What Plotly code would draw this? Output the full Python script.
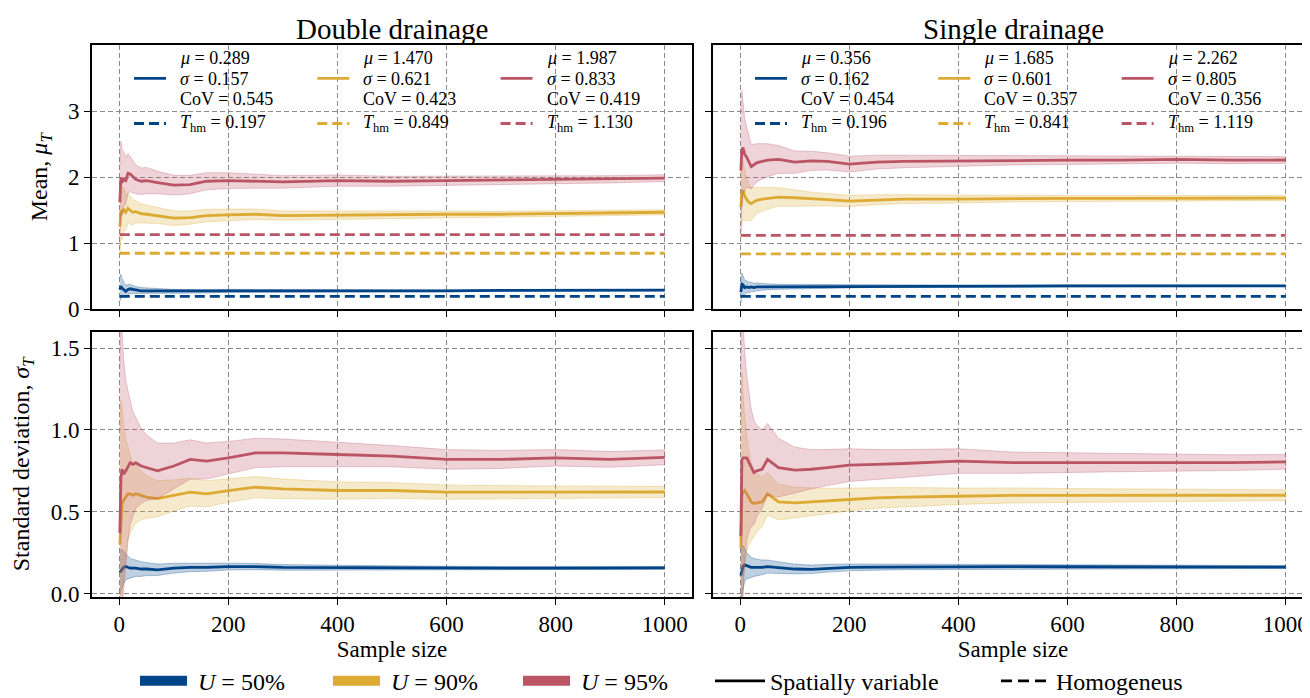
import plotly.graph_objects as go

# ---------------- data ----------------
N = [1, 3, 5, 8, 12, 16, 20, 25, 30, 40, 50, 70, 100, 130, 160, 200, 250, 300,
     400, 500, 600, 700, 800, 900, 1000]

U_LABELS = ["50%", "90%", "95%"]
COLORS = ["#004488", "#DDAA33", "#BB5566"]
FILLS = ["rgba(0,68,136,0.25)", "rgba(221,170,51,0.25)", "rgba(187,85,102,0.25)"]
EDGES = ["rgba(0,68,136,0.30)", "rgba(221,170,51,0.30)", "rgba(187,85,102,0.30)"]

# Double drainage - running mean and band half-width
dd_mean_50 = [0.30, 0.35, 0.32, 0.30, 0.27, 0.30, 0.31, 0.30, 0.29, 0.28, 0.28, 0.28, 0.27,
              0.27, 0.27, 0.28, 0.28, 0.28, 0.28, 0.28, 0.28, 0.285, 0.285, 0.29, 0.289]
dd_mean_50_ci = [0.18, 0.18, 0.14, 0.11, 0.09, 0.078, 0.07, 0.062, 0.056, 0.049, 0.044, 0.037,
                 0.031, 0.027, 0.024, 0.022, 0.019, 0.018, 0.015, 0.014, 0.013, 0.012, 0.011,
                 0.010, 0.010]
dd_mean_90 = [1.25, 1.50, 1.45, 1.52, 1.47, 1.53, 1.50, 1.47, 1.48, 1.45, 1.44, 1.42, 1.38,
              1.39, 1.42, 1.43, 1.44, 1.42, 1.43, 1.43, 1.44, 1.44, 1.45, 1.46, 1.470]
dd_mean_90_ci = [0.45, 0.45, 0.40, 0.33, 0.27, 0.23, 0.21, 0.19, 0.17, 0.15, 0.14, 0.12, 0.11,
                 0.10, 0.095, 0.088, 0.078, 0.07, 0.062, 0.055, 0.05, 0.046, 0.043, 0.041,
                 0.039]
dd_mean_95 = [1.62, 2.00, 1.92, 1.97, 1.95, 2.06, 2.05, 2.01, 1.97, 1.94, 1.95, 1.92, 1.88,
              1.89, 1.94, 1.95, 1.94, 1.93, 1.95, 1.94, 1.95, 1.96, 1.96, 1.97, 1.987]
dd_mean_95_ci = [0.55, 0.55, 0.50, 0.42, 0.35, 0.30, 0.27, 0.24, 0.22, 0.20, 0.20, 0.17, 0.15,
                 0.14, 0.13, 0.12, 0.105, 0.095, 0.085, 0.075, 0.068, 0.062, 0.058, 0.055,
                 0.052]

# Single drainage - running mean and band half-width
sd_mean_50 = [0.26, 0.38, 0.37, 0.33, 0.34, 0.33, 0.34, 0.33, 0.34, 0.34, 0.34, 0.34, 0.345,
              0.34, 0.345, 0.345, 0.35, 0.35, 0.35, 0.35, 0.355, 0.355, 0.355, 0.356, 0.356]
sd_mean_50_ci = [0.17, 0.17, 0.14, 0.11, 0.09, 0.08, 0.07, 0.064, 0.058, 0.05, 0.045, 0.038,
                 0.032, 0.028, 0.025, 0.022, 0.02, 0.018, 0.016, 0.014, 0.013, 0.012, 0.011,
                 0.011, 0.010]
sd_mean_90 = [1.55, 1.78, 1.80, 1.72, 1.66, 1.62, 1.60, 1.62, 1.65, 1.67, 1.68, 1.70, 1.69,
              1.67, 1.66, 1.64, 1.66, 1.67, 1.67, 1.68, 1.68, 1.68, 1.685, 1.68, 1.685]
sd_mean_90_ci = [0.50, 0.50, 0.45, 0.38, 0.32, 0.28, 0.25, 0.22, 0.20, 0.18, 0.16, 0.14, 0.12,
                 0.105, 0.095, 0.085, 0.075, 0.068, 0.06, 0.053, 0.048, 0.045, 0.042, 0.04,
                 0.038]
sd_mean_95 = [2.10, 2.42, 2.45, 2.35, 2.30, 2.22, 2.16, 2.19, 2.22, 2.24, 2.26, 2.27, 2.23,
              2.25, 2.24, 2.20, 2.23, 2.24, 2.25, 2.26, 2.26, 2.26, 2.27, 2.26, 2.262]
sd_mean_95_ci = [0.90, 0.90, 0.70, 0.55, 0.45, 0.38, 0.34, 0.31, 0.29, 0.27, 0.25, 0.21, 0.17,
                 0.145, 0.13, 0.12, 0.105, 0.095, 0.082, 0.073, 0.066, 0.061, 0.057, 0.054,
                 0.051]

# Double drainage - running standard deviation and band half-width
dd_std_50 = [0.13, 0.14, 0.15, 0.16, 0.165, 0.16, 0.155, 0.155, 0.155, 0.15, 0.15, 0.145,
             0.155, 0.16, 0.16, 0.165, 0.165, 0.16, 0.158, 0.155, 0.155, 0.155, 0.156, 0.157,
             0.157]
dd_std_50_ci = [0.13, 0.13, 0.12, 0.10, 0.08, 0.07, 0.06, 0.055, 0.05, 0.045, 0.04, 0.035,
                0.03, 0.026, 0.024, 0.021, 0.019, 0.017, 0.015, 0.013, 0.012, 0.011, 0.010,
                0.010, 0.009]
dd_std_90 = [0.30, 0.48, 0.55, 0.57, 0.59, 0.61, 0.61, 0.60, 0.61, 0.60, 0.59, 0.58, 0.60,
             0.62, 0.61, 0.63, 0.65, 0.64, 0.63, 0.63, 0.62, 0.62, 0.62, 0.62, 0.621]
dd_std_90_ci = [0.70, 0.70, 0.60, 0.45, 0.35, 0.28, 0.24, 0.20, 0.18, 0.15, 0.13, 0.11, 0.095,
                0.085, 0.08, 0.072, 0.065, 0.06, 0.053, 0.048, 0.044, 0.04, 0.038, 0.036,
                0.034]
dd_std_95 = [0.37, 0.70, 0.76, 0.73, 0.75, 0.78, 0.80, 0.79, 0.80, 0.78, 0.77, 0.75, 0.78,
             0.82, 0.81, 0.83, 0.86, 0.86, 0.85, 0.84, 0.82, 0.82, 0.83, 0.82, 0.833]
dd_std_95_ci = [1.00, 1.00, 0.85, 0.70, 0.55, 0.45, 0.38, 0.32, 0.28, 0.23, 0.20, 0.17, 0.14,
                0.12, 0.11, 0.10, 0.09, 0.085, 0.075, 0.065, 0.06, 0.055, 0.05, 0.048, 0.045]

# Single drainage - running standard deviation and band half-width
sd_std_50 = [0.11, 0.14, 0.165, 0.175, 0.17, 0.165, 0.16, 0.16, 0.16, 0.16, 0.165, 0.16,
             0.15, 0.148, 0.155, 0.16, 0.162, 0.163, 0.165, 0.165, 0.164, 0.163, 0.162,
             0.162, 0.162]
sd_std_50_ci = [0.15, 0.15, 0.13, 0.10, 0.08, 0.07, 0.062, 0.055, 0.05, 0.045, 0.04, 0.035,
                0.03, 0.026, 0.024, 0.021, 0.019, 0.017, 0.015, 0.013, 0.012, 0.011, 0.010,
                0.010, 0.009]
sd_std_90 = [0.28, 0.60, 0.62, 0.63, 0.61, 0.58, 0.56, 0.55, 0.555, 0.56, 0.61, 0.56, 0.555,
             0.56, 0.565, 0.575, 0.585, 0.59, 0.595, 0.60, 0.60, 0.60, 0.60, 0.60, 0.601]
sd_std_90_ci = [0.75, 0.75, 0.60, 0.45, 0.35, 0.28, 0.24, 0.20, 0.18, 0.15, 0.13, 0.11, 0.095,
                0.085, 0.078, 0.07, 0.063, 0.058, 0.05, 0.046, 0.042, 0.039, 0.036, 0.034,
                0.033]
sd_std_95 = [0.35, 0.82, 0.83, 0.83, 0.83, 0.80, 0.77, 0.74, 0.75, 0.76, 0.82, 0.77, 0.755,
             0.76, 0.77, 0.785, 0.79, 0.795, 0.81, 0.80, 0.80, 0.80, 0.80, 0.80, 0.805]
sd_std_95_ci = [1.00, 1.00, 0.85, 0.65, 0.50, 0.42, 0.36, 0.32, 0.28, 0.24, 0.22, 0.18, 0.14,
                0.12, 0.11, 0.10, 0.09, 0.085, 0.075, 0.065, 0.06, 0.055, 0.05, 0.048, 0.045]

# Homogeneous solutions
dd_T_hm = [0.197, 0.849, 1.130]
sd_T_hm = [0.196, 0.841, 1.119]

# Summary statistics shown in the legends
dd_mu = ["0.289", "1.470", "1.987"]
dd_sigma = ["0.157", "0.621", "0.833"]
dd_cov = ["0.545", "0.423", "0.419"]
sd_mu = ["0.356", "1.685", "2.262"]
sd_sigma = ["0.162", "0.601", "0.805"]
sd_cov = ["0.454", "0.357", "0.356"]

X_TICKS = [0, 200, 400, 600, 800, 1000]
Y_TICKS_MEAN = [0, 1, 2, 3]
Y_TICKS_STD = [0.0, 0.5, 1.0, 1.5]
Y_TICKTEXT_STD = ["0.0", "0.5", "1.0", "1.5"]

# ---------------- figure ----------------
W, H = 1310, 698
FONT = "Liberation Serif"
fig = go.Figure()


def px_x(p):
    return p / W


def px_y(p):
    return 1 - p / H


panels = [
    ("x", "y", [dd_mean_50, dd_mean_90, dd_mean_95], [dd_mean_50_ci, dd_mean_90_ci, dd_mean_95_ci], dd_T_hm),
    ("x2", "y2", [sd_mean_50, sd_mean_90, sd_mean_95], [sd_mean_50_ci, sd_mean_90_ci, sd_mean_95_ci], sd_T_hm),
    ("x3", "y3", [dd_std_50, dd_std_90, dd_std_95], [dd_std_50_ci, dd_std_90_ci, dd_std_95_ci], None),
    ("x4", "y4", [sd_std_50, sd_std_90, sd_std_95], [sd_std_50_ci, sd_std_90_ci, sd_std_95_ci], None),
]
stats = {"x": (dd_mu, dd_sigma, dd_cov, dd_T_hm), "x2": (sd_mu, sd_sigma, sd_cov, sd_T_hm)}
panel_offset = {"x": 0, "x2": 621}

# legend layout (pixel positions inside the figure)
KEY_LEFT = [121, 304.3, 487.6]        # left edge of each legend column
TEXT_DX = 50                          # legend text start relative to column edge
ROW_Y = [51, 72, 93, 118]             # mu, sigma, CoV, T_hm rows
LEG_SIZE = 18

key_legends = {}
annotations = []
leg_count = 0

for xa, ya, means, cis, thm in panels:
    for i in range(3):
        m, c = means[i], cis[i]
        upper = [a + b for a, b in zip(m, c)]
        lower = [a - b for a, b in zip(m, c)]
        fig.add_trace(go.Scatter(
            x=N + N[::-1], y=upper + lower[::-1], xaxis=xa, yaxis=ya,
            fill="toself", fillcolor=FILLS[i], mode="lines",
            line=dict(color=EDGES[i], width=1), showlegend=False, hoverinfo="skip"))
        if thm is None:
            fig.add_trace(go.Scatter(
                x=N, y=m, xaxis=xa, yaxis=ya, mode="lines",
                line=dict(color=COLORS[i], width=2.8), showlegend=False))
            continue
        mu, sg, cv, th = stats[xa]
        left = KEY_LEFT[i] + panel_offset[xa]
        # solid key (spatially variable)
        leg_count += 1
        ln = "legend" if leg_count == 1 else f"legend{leg_count}"
        key_legends[ln] = dict(x=px_x(left), y=px_y(ROW_Y[1]), yanchor="middle")
        fig.add_trace(go.Scatter(
            x=N, y=m, xaxis=xa, yaxis=ya, mode="lines",
            line=dict(color=COLORS[i], width=2.8), name=" ",
            legend=ln, showlegend=True))
        # dashed key (homogeneous)
        leg_count += 1
        ln = f"legend{leg_count}"
        key_legends[ln] = dict(x=px_x(left), y=px_y(ROW_Y[3]), yanchor="middle")
        fig.add_trace(go.Scatter(
            x=[N[0], N[-1]], y=[thm[i], thm[i]], xaxis=xa, yaxis=ya, mode="lines",
            line=dict(color=COLORS[i], width=2.8, dash="10px,5px"), name=" ",
            legend=ln, showlegend=True))
        texts = [f"<i>μ</i> = {mu[i]}", f"<i>σ</i> = {sg[i]}", f"CoV = {cv[i]}",
                 f"<i>T</i><sub>hm</sub> = {th[i]:.3f}"]
        for t, yy in zip(texts, ROW_Y):
            annotations.append(dict(text=t, xref="paper", yref="paper",
                                    x=px_x(left + TEXT_DX), y=px_y(yy),
                                    xanchor="left", yanchor="middle", showarrow=False,
                                    borderpad=0,
                                    font=dict(family=FONT, size=LEG_SIZE, color="black")))

# bottom legend entries (legend-only traces)
bottom_names = [f"\u2005<i>U</i> = {u}" for u in U_LABELS]
bottom_legs = []
for i in range(3):
    leg_count += 1
    ln = f"legend{leg_count}"
    bottom_legs.append(ln)
    fig.add_trace(go.Scatter(
        x=[None], y=[None], mode="lines", line=dict(color=COLORS[i], width=15),
        name=bottom_names[i], legend=ln, showlegend=True))
leg_count += 1
bottom_legs.append(f"legend{leg_count}")
fig.add_trace(go.Scatter(x=[None], y=[None], mode="lines", line=dict(color="black", width=2.8),
                         name="Spatially variable", legend=bottom_legs[-1], showlegend=True))
leg_count += 1
bottom_legs.append(f"legend{leg_count}")
fig.add_trace(go.Scatter(x=[None], y=[None], mode="lines",
                         line=dict(color="black", width=2.8, dash="11px,6px"),
                         name="Homogeneus", legend=bottom_legs[-1], showlegend=True))

# ---------------- axes ----------------
XD = [[px_x(84), px_x(684)], [px_x(705), px_x(1305)]]
YD = [[px_y(307), px_y(38)], [px_y(600), px_y(330)]]
TICKFONT = dict(family=FONT, size=23, color="black")
XLABFONT = dict(family=FONT, size=23, color="black")
YLABFONT = dict(family=FONT, size=24, color="black")
common = dict(showline=True, linecolor="black", linewidth=1.6, mirror=True,
              ticks="outside", ticklen=6, tickwidth=1.3, tickcolor="black",
              showgrid=True, gridcolor="#8a8a8a", gridwidth=1.2, griddash="5px,3px",
              zeroline=False, tickfont=TICKFONT)

for k, (row, col) in enumerate([(0, 0), (0, 1), (1, 0), (1, 1)]):
    sfx = "" if k == 0 else str(k + 1)
    xax = dict(common, domain=XD[col], range=[-50, 1050], tickvals=X_TICKS,
               anchor="y" + sfx, showticklabels=(row == 1))
    if row == 1:
        xax["title"] = dict(text="Sample size", font=XLABFONT, standoff=2)
    if row == 0:
        yax = dict(common, domain=YD[row], range=[0, 4], tickvals=Y_TICKS_MEAN,
                   anchor="x" + sfx, showticklabels=(col == 0))
        if col == 0:
            yax["title"] = dict(text="Mean, <i>μ<sub>T</sub></i>", font=YLABFONT, standoff=14)
    else:
        yax = dict(common, domain=YD[row], range=[-0.02, 1.6], tickvals=Y_TICKS_STD,
                   ticktext=Y_TICKTEXT_STD, anchor="x" + sfx, showticklabels=(col == 0))
        if col == 0:
            yax["title"] = dict(text="Standard deviation, <i>σ<sub>T</sub></i>",
                                font=YLABFONT, standoff=14)
    fig.update_layout(**{"xaxis" + sfx: xax, "yaxis" + sfx: yax})

# ---------------- legends ----------------
leg_common = dict(bgcolor="rgba(0,0,0,0)", borderwidth=0,
                  font=dict(family=FONT, size=LEG_SIZE, color="black"),
                  xanchor="left", orientation="v", itemwidth=32, traceorder="normal")
layout_legends = {ln: dict(leg_common, **v) for ln, v in key_legends.items()}

bot_x = [127, 320, 510, 702, 988]
bot_w = [47, 47, 47, 50, 50]
for j, ln in enumerate(bottom_legs):
    layout_legends[ln] = dict(leg_common, x=px_x(bot_x[j]), y=px_y(686), yanchor="middle",
                              itemwidth=bot_w[j],
                              font=dict(family=FONT, size=24, color="black"))

fig.update_layout(**layout_legends)

# ---------------- titles ----------------
for col, title in enumerate(["Double drainage", "Single drainage"]):
    annotations.append(dict(text=title, xref="paper", yref="paper",
                            x=(XD[col][0] + XD[col][1]) / 2, y=px_y(21),
                            xanchor="center", yanchor="middle", showarrow=False,
                            font=dict(family=FONT, size=29, color="black")))

fig.update_layout(width=W, height=H, margin=dict(l=0, r=0, t=0, b=0),
                  paper_bgcolor="white", plot_bgcolor="white",
                  font=dict(family=FONT, color="black"), showlegend=True,
                  annotations=annotations)

fig.write_html("out.html")
